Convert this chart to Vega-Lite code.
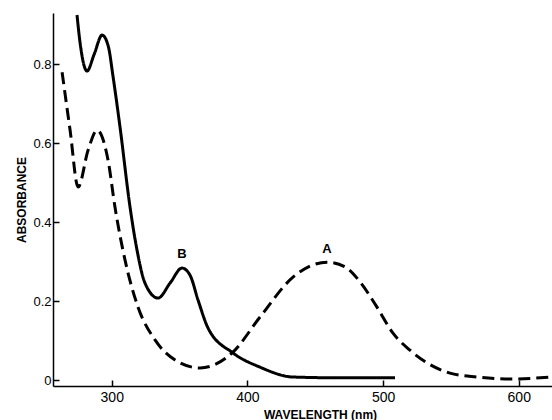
{
  "$schema": "https://vega.github.io/schema/vega-lite/v6.json",
  "width": 499,
  "height": 373,
  "autosize": {"type": "none"},
  "padding": {"left": 53, "top": 13, "right": 0, "bottom": 34},
  "background": "white",
  "config": {
    "view": {"stroke": null},
    "axis": {
      "grid": false,
      "domainColor": "black",
      "domainWidth": 1.5,
      "tickColor": "black",
      "tickWidth": 1.5,
      "tickSize": -6,
      "labelColor": "black",
      "labelFont": "Liberation Sans",
      "labelFontSize": 13,
      "titleColor": "black",
      "titleFont": "Liberation Sans",
      "titleFontSize": 12,
      "titleFontWeight": "bold"
    }
  },
  "datasets": {
    "curves": [
      {"sample": "B", "wavelength": 274.4, "absorbance": 0.925},
      {"sample": "B", "wavelength": 276.6, "absorbance": 0.856},
      {"sample": "B", "wavelength": 281.8, "absorbance": 0.783},
      {"sample": "B", "wavelength": 287.0, "absorbance": 0.825},
      {"sample": "B", "wavelength": 292.9, "absorbance": 0.874},
      {"sample": "B", "wavelength": 297.5, "absorbance": 0.845},
      {"sample": "B", "wavelength": 301.0, "absorbance": 0.768},
      {"sample": "B", "wavelength": 306.1, "absorbance": 0.641},
      {"sample": "B", "wavelength": 313.5, "absorbance": 0.438},
      {"sample": "B", "wavelength": 318.6, "absorbance": 0.330},
      {"sample": "B", "wavelength": 324.5, "absorbance": 0.246},
      {"sample": "B", "wavelength": 334.1, "absorbance": 0.208},
      {"sample": "B", "wavelength": 343.0, "absorbance": 0.246},
      {"sample": "B", "wavelength": 351.8, "absorbance": 0.284},
      {"sample": "B", "wavelength": 357.7, "absorbance": 0.266},
      {"sample": "B", "wavelength": 363.6, "absorbance": 0.203},
      {"sample": "B", "wavelength": 371.0, "absorbance": 0.132},
      {"sample": "B", "wavelength": 389.4, "absorbance": 0.069},
      {"sample": "B", "wavelength": 409.3, "absorbance": 0.033},
      {"sample": "B", "wavelength": 433.6, "absorbance": 0.008},
      {"sample": "B", "wavelength": 470.0, "absorbance": 0.006},
      {"sample": "B", "wavelength": 508.8, "absorbance": 0.006},
      {"sample": "A", "wavelength": 263.4, "absorbance": 0.780},
      {"sample": "A", "wavelength": 269.3, "absorbance": 0.633},
      {"sample": "A", "wavelength": 275.2, "absorbance": 0.489},
      {"sample": "A", "wavelength": 282.6, "absorbance": 0.583},
      {"sample": "A", "wavelength": 289.2, "absorbance": 0.633},
      {"sample": "A", "wavelength": 297.3, "absorbance": 0.557},
      {"sample": "A", "wavelength": 302.4, "absorbance": 0.438},
      {"sample": "A", "wavelength": 309.8, "absorbance": 0.304},
      {"sample": "A", "wavelength": 319.4, "absorbance": 0.185},
      {"sample": "A", "wavelength": 331.9, "absorbance": 0.102},
      {"sample": "A", "wavelength": 346.7, "absorbance": 0.051},
      {"sample": "A", "wavelength": 365.1, "absorbance": 0.031},
      {"sample": "A", "wavelength": 388.7, "absorbance": 0.069},
      {"sample": "A", "wavelength": 409.3, "absorbance": 0.160},
      {"sample": "A", "wavelength": 433.6, "absorbance": 0.261},
      {"sample": "A", "wavelength": 458.7, "absorbance": 0.299},
      {"sample": "A", "wavelength": 471.9, "absorbance": 0.287},
      {"sample": "A", "wavelength": 483.0, "absorbance": 0.249},
      {"sample": "A", "wavelength": 495.5, "absorbance": 0.185},
      {"sample": "A", "wavelength": 507.3, "absorbance": 0.119},
      {"sample": "A", "wavelength": 519.8, "absorbance": 0.076},
      {"sample": "A", "wavelength": 532.3, "absorbance": 0.044},
      {"sample": "A", "wavelength": 549.3, "absorbance": 0.018},
      {"sample": "A", "wavelength": 569.2, "absorbance": 0.008},
      {"sample": "A", "wavelength": 593.5, "absorbance": 0.003},
      {"sample": "A", "wavelength": 624.5, "absorbance": 0.008}
    ],
    "labels": [
      {"label": "B", "wavelength": 351.8, "absorbance": 0.319},
      {"label": "A", "wavelength": 458.7, "absorbance": 0.332}
    ]
  },
  "layer": [
    {
      "data": {"name": "curves"},
      "mark": {"type": "line", "stroke": "black", "strokeWidth": 3, "interpolate": "monotone", "clip": true},
      "encoding": {
        "x": {
          "field": "wavelength", "type": "quantitative",
          "scale": {"domain": [256.7, 624.5], "nice": false, "zero": false},
          "axis": {"values": [300, 400, 500, 600], "format": "d", "labelFontSize": 14, "labelPadding": 10, "title": "WAVELENGTH (nm)", "titleX": 267, "titleY": 23, "titleBaseline": "top", "titleAlign": "center", "titleAnchor": null}
        },
        "y": {
          "field": "absorbance", "type": "quantitative",
          "scale": {"domain": [-0.0147, 0.93], "nice": false, "zero": false},
          "axis": {"values": [0, 0.2, 0.4, 0.6, 0.8], "format": ".1~f", "labelPadding": 8, "title": "ABSORBANCE", "titlePadding": 4}
        },
        "detail": {"field": "sample"},
        "strokeDash": {
          "field": "sample", "type": "nominal",
          "scale": {"domain": ["A", "B"], "range": [[12, 6], [1, 0]]},
          "legend": null
        }
      }
    },
    {
      "data": {"name": "labels"},
      "mark": {"type": "text", "font": "Liberation Sans", "fontSize": 13, "fontWeight": "bold", "color": "black"},
      "encoding": {
        "x": {"field": "wavelength", "type": "quantitative"},
        "y": {"field": "absorbance", "type": "quantitative"},
        "text": {"field": "label"}
      }
    }
  ]
}
